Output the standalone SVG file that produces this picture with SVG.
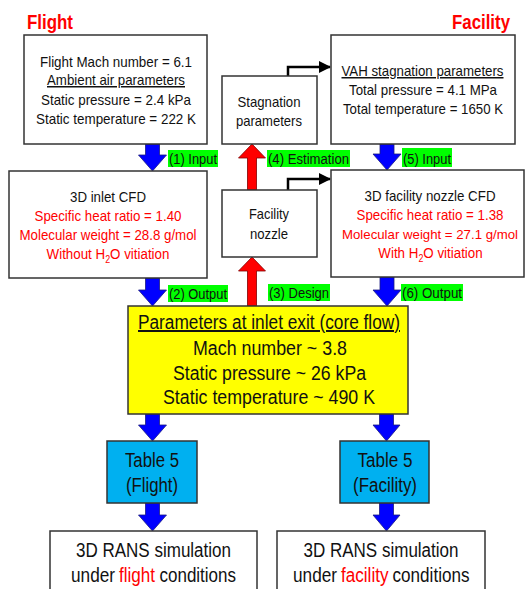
<svg xmlns="http://www.w3.org/2000/svg" width="526" height="589" viewBox="0 0 526 589">
<style>
text{font-family:"Liberation Sans",Arial,sans-serif;fill:#111;text-anchor:middle}
.s{text-anchor:start}
.box{fill:#fff;stroke:#333;stroke-width:1.5}
.t15{font-size:15px}
.t20{font-size:20px}
.sub{font-size:10px}
.red{fill:#ff0000}
.title{font-size:20px;font-weight:bold;fill:#ff0000;text-anchor:start}
.lbl{font-size:15.5px;text-anchor:start}
.lblbg{fill:#00ff00}
.blue{fill:#0000ff;stroke:#1a1a80;stroke-width:0.8}
.redarrow{fill:#ff0000;stroke:#800000;stroke-width:0.8}
.conn{fill:none;stroke:#000;stroke-width:2.5}
.ul{text-decoration:underline}
</style>
<defs>
<marker id="ah" markerUnits="userSpaceOnUse" markerWidth="12" markerHeight="12" refX="11" refY="6" orient="auto">
<path d="M0,0 L12,6 L0,12 Z" fill="#000"/>
</marker>
</defs>
<rect width="526" height="589" fill="#fff"/>

<text class="title" x="27" y="29" textLength="46" lengthAdjust="spacingAndGlyphs">Flight</text>
<text class="title" x="452" y="29" textLength="58" lengthAdjust="spacingAndGlyphs">Facility</text>

<g id="connectors">
<path class="conn" d="M288,76 V67 H330" marker-end="url(#ah)"/>
<path class="conn" d="M288,190 V179 H330" marker-end="url(#ah)"/>
<path class="blue" d="M145.5,144 H159.5 V155 H166.5 L152.5,171 L138.5,155 H145.5 Z"/>
<path class="blue" d="M145.5,278 H159.5 V290 H166.5 L152.5,306 L138.5,290 H145.5 Z"/>
<path class="blue" d="M380,144 H394 V154 H401 L387,170 L373,154 H380 Z"/>
<path class="blue" d="M380,277 H394 V290 H401 L387,306 L373,290 H380 Z"/>
<path class="blue" d="M145.5,414 H159.5 V425 H166.5 L152.5,441 L138.5,425 H145.5 Z"/>
<path class="blue" d="M379.5,414 H393.5 V425 H400 L386.5,441 L373,425 H379.5 Z"/>
<path class="blue" d="M145.5,503 H159.5 V515 H166.5 L152.5,531 L138.5,515 H145.5 Z"/>
<path class="blue" d="M379.5,503 H393.5 V515 H400 L386.5,531 L373,515 H379.5 Z"/>
<path class="redarrow" d="M247.5,306 V271 H238.5 L252,257 L265.5,271 H256.5 V306 Z"/>
<path class="redarrow" d="M247.5,190 V158 H238.5 L252,144 L265.5,158 H256.5 V190 Z"/>
<rect class="lblbg" x="168" y="150" width="50" height="17"/>
<text class="lbl" x="169" y="164" textLength="48" lengthAdjust="spacingAndGlyphs">(1) Input</text>
<rect class="lblbg" x="267" y="150" width="83" height="17"/>
<text class="lbl" x="268" y="164" textLength="81" lengthAdjust="spacingAndGlyphs">(4) Estimation</text>
<rect class="lblbg" x="402" y="148" width="50" height="19"/>
<text class="lbl" x="403" y="164" textLength="48" lengthAdjust="spacingAndGlyphs">(5) Input</text>
<rect class="lblbg" x="168" y="285" width="60" height="17"/>
<text class="lbl" x="169" y="299" textLength="58" lengthAdjust="spacingAndGlyphs">(2) Output</text>
<rect class="lblbg" x="268" y="284" width="62" height="17"/>
<text class="lbl" x="269" y="298" textLength="60" lengthAdjust="spacingAndGlyphs">(3) Design</text>
<rect class="lblbg" x="401" y="284" width="62" height="17"/>
<text class="lbl" x="402" y="298" textLength="60" lengthAdjust="spacingAndGlyphs">(6) Output</text>
</g>

<g id="flight-box">
<rect class="box" x="24" y="35" width="183" height="109"/>
<text class="t15" x="116" y="67" textLength="152" lengthAdjust="spacingAndGlyphs">Flight Mach number = 6.1</text>
<text class="t15 ul" x="116" y="85" textLength="138" lengthAdjust="spacingAndGlyphs">Ambient air parameters</text>
<text class="t15" x="116" y="105" textLength="150" lengthAdjust="spacingAndGlyphs">Static pressure = 2.4 kPa</text>
<text class="t15" x="116" y="124" textLength="160" lengthAdjust="spacingAndGlyphs">Static temperature = 222 K</text>
</g>

<g id="vah-box">
<rect class="box" x="331" y="35" width="184" height="109"/>
<text class="t15 ul" x="422.5" y="76" textLength="162" lengthAdjust="spacingAndGlyphs">VAH stagnation parameters</text>
<text class="t15" x="423" y="95" textLength="148" lengthAdjust="spacingAndGlyphs">Total pressure = 4.1 MPa</text>
<text class="t15" x="423" y="114" textLength="160" lengthAdjust="spacingAndGlyphs">Total temperature = 1650 K</text>
</g>

<g id="stagnation-box">
<rect class="box" x="222" y="76" width="95" height="68"/>
<text class="t15" x="269" y="107" textLength="63" lengthAdjust="spacingAndGlyphs">Stagnation</text>
<text class="t15" x="269" y="126" textLength="66" lengthAdjust="spacingAndGlyphs">parameters</text>
</g>

<g id="inlet-cfd-box">
<rect class="box" x="9" y="171" width="198" height="107"/>
<text class="t15" x="108" y="202" textLength="76" lengthAdjust="spacingAndGlyphs">3D inlet CFD</text>
<text class="t15 red" x="108" y="221" textLength="147" lengthAdjust="spacingAndGlyphs">Specific heat ratio = 1.40</text>
<text class="t15 red" x="108" y="240" textLength="177" lengthAdjust="spacingAndGlyphs">Molecular weight = 28.8 g/mol</text>
<text class="t15 red" transform="translate(108,259) scale(0.89,1)" x="0" y="0">Without H<tspan class="sub" dy="4">2</tspan><tspan dy="-4">O vitiation</tspan></text>
</g>

<g id="facility-nozzle-box">
<rect class="box" x="222" y="190" width="95" height="67"/>
<text class="t15" x="269" y="219" textLength="40" lengthAdjust="spacingAndGlyphs">Facility</text>
<text class="t15" x="269" y="239" textLength="38" lengthAdjust="spacingAndGlyphs">nozzle</text>
</g>

<g id="facility-cfd-box">
<rect class="box" x="331" y="170" width="193" height="107"/>
<text class="t15" x="430" y="201" textLength="131" lengthAdjust="spacingAndGlyphs">3D facility nozzle CFD</text>
<text class="t15 red" x="430" y="220" textLength="147" lengthAdjust="spacingAndGlyphs">Specific heat ratio = 1.38</text>
<text class="red" font-size="13.5" x="430" y="239" textLength="176" lengthAdjust="spacingAndGlyphs">Molecular weight = 27.1 g/mol</text>
<text class="t15 red" transform="translate(430.5,258) scale(0.89,1)" x="0" y="0">With H<tspan class="sub" dy="4">2</tspan><tspan dy="-4">O vitiation</tspan></text>
</g>

<g id="inlet-exit-box">
<rect x="128" y="306" width="280" height="108" fill="#ffff00" stroke="#333" stroke-width="1.5"/>
<text class="t20 ul" x="269" y="329" textLength="262" lengthAdjust="spacingAndGlyphs">Parameters at inlet exit (core flow)</text>
<text class="t20" x="270" y="355" textLength="154" lengthAdjust="spacingAndGlyphs">Mach number ~ 3.8</text>
<text class="t20" x="269.5" y="380" textLength="193" lengthAdjust="spacingAndGlyphs">Static pressure ~ 26 kPa</text>
<text class="t20" x="269" y="404" textLength="212" lengthAdjust="spacingAndGlyphs">Static temperature ~ 490 K</text>
</g>

<g id="table-flight-box">
<rect x="107" y="441" width="90" height="62" fill="#00b0f0" stroke="#333" stroke-width="1.5"/>
<text class="t20" x="152" y="467" textLength="54" lengthAdjust="spacingAndGlyphs">Table 5</text>
<text class="t20" x="152" y="492" textLength="52" lengthAdjust="spacingAndGlyphs">(Flight)</text>
</g>

<g id="table-facility-box">
<rect x="340" y="441" width="89" height="62" fill="#00b0f0" stroke="#333" stroke-width="1.5"/>
<text class="t20" x="385" y="467" textLength="55" lengthAdjust="spacingAndGlyphs">Table 5</text>
<text class="t20" x="385" y="492" textLength="64" lengthAdjust="spacingAndGlyphs">(Facility)</text>
</g>

<g id="rans-flight-box">
<rect class="box" x="50" y="531" width="207" height="70"/>
<text class="t20" x="153.5" y="557" textLength="155" lengthAdjust="spacingAndGlyphs">3D RANS simulation</text>
<text class="t20 s" x="71" y="582" textLength="44" lengthAdjust="spacingAndGlyphs">under</text>
<text class="t20 s red" x="119" y="582" textLength="36" lengthAdjust="spacingAndGlyphs">flight</text>
<text class="t20 s" x="159.5" y="582" textLength="76.5" lengthAdjust="spacingAndGlyphs">conditions</text>
</g>

<g id="rans-facility-box">
<rect class="box" x="277" y="531" width="208" height="70"/>
<text class="t20" x="381" y="557" textLength="155" lengthAdjust="spacingAndGlyphs">3D RANS simulation</text>
<text class="t20 s" x="293" y="582" textLength="44" lengthAdjust="spacingAndGlyphs">under</text>
<text class="t20 s red" x="341" y="582" textLength="47.5" lengthAdjust="spacingAndGlyphs">facility</text>
<text class="t20 s" x="392.5" y="582" textLength="77" lengthAdjust="spacingAndGlyphs">conditions</text>
</g>
</svg>
